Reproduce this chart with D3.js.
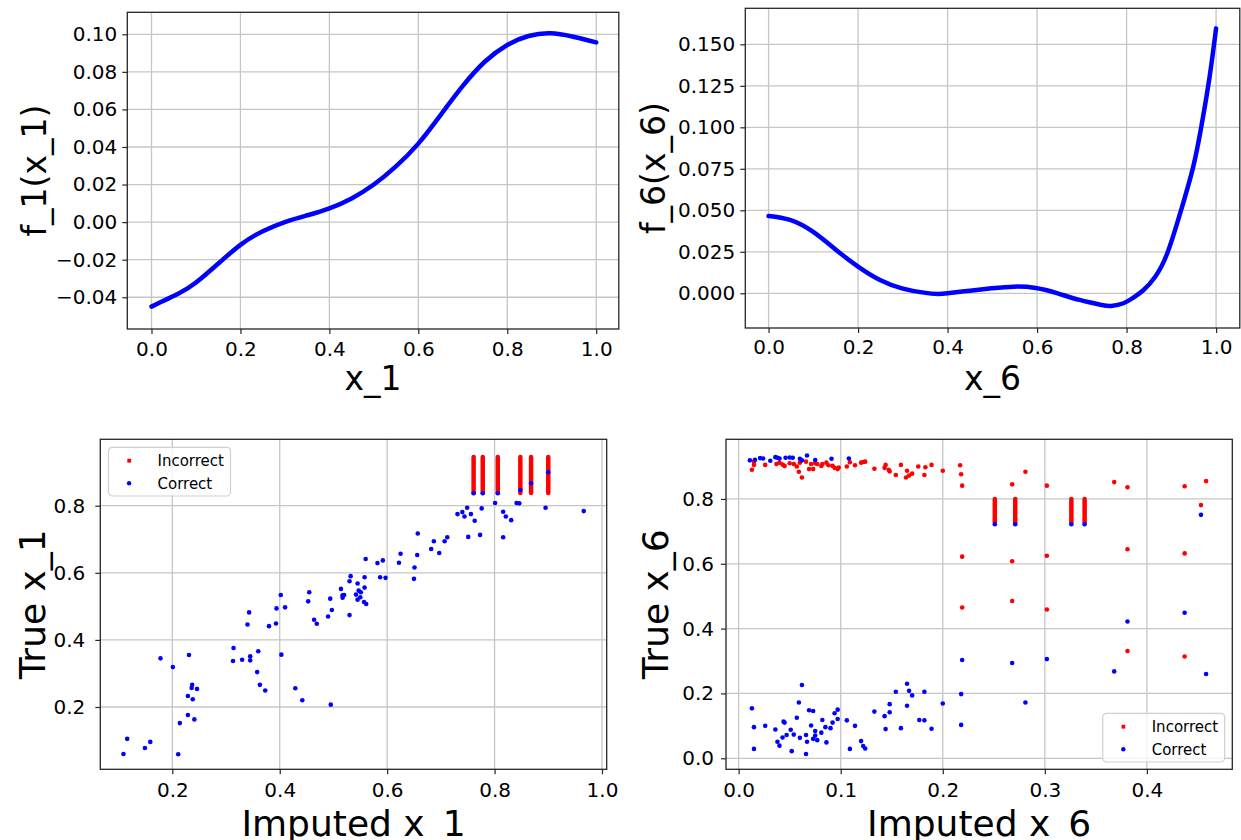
<!DOCTYPE html>
<html>
<head>
<meta charset="utf-8">
<script src="https://cdn.jsdelivr.net/npm/d3@7"></script>
<style>
  body { margin: 0; background: #fff; }
  text { font-family: "DejaVu Sans", sans-serif; }
</style>
</head>
<body>
<script>
var width = 1241,
    height = 840;

// ---- shape function f_1(x_1)
var f1X = [0, 0.062, 0.1, 0.151, 0.2, 0.249, 0.303, 0.353, 0.4, 0.45, 0.5, 0.549, 0.6, 0.65, 0.7, 0.75, 0.8, 0.848, 0.897, 0.946, 1.0];
var f1Y = [-0.045, -0.0379, -0.0322, -0.0219, -0.0121, -0.0050, 0.0003, 0.0038, 0.0073, 0.0126, 0.0200, 0.0295, 0.0418, 0.0570, 0.0725, 0.0855, 0.0943, 0.0991, 0.1005, 0.0988, 0.0957];

// ---- shape function f_6(x_6)
var f6X = [0, 0.048, 0.099, 0.151, 0.2, 0.249, 0.298, 0.347, 0.378, 0.4, 0.45, 0.499, 0.548, 0.597, 0.646, 0.695, 0.744, 0.766, 0.793, 0.815, 0.838, 0.864, 0.891, 0.922, 0.949, 0.967, 0.985, 1.0];
var f6Y = [0.0466, 0.0442, 0.0371, 0.0261, 0.0161, 0.0080, 0.0030, 0.0004, -0.0004, 0.0, 0.0016, 0.0030, 0.0040, 0.0032, 0.0, -0.0040, -0.0070, -0.0076, -0.0060, -0.0026, 0.0020, 0.0100, 0.0241, 0.0502, 0.0763, 0.1004, 0.1295, 0.1596];

// ---- imputation of x_1
var x1CorrectImputed = [0.109, 0.116, 0.149, 0.159, 0.211, 0.178, 0.201, 0.231, 0.214, 0.229, 0.241, 0.229, 0.238, 0.236, 0.237, 0.246,
  0.314, 0.313, 0.330, 0.345, 0.345, 0.360, 0.358, 0.363, 0.373, 0.340, 0.343, 0.380, 0.393, 0.394, 0.402, 0.410, 0.403, 0.429, 0.442, 0.495,
  0.453, 0.455, 0.464, 0.469, 0.490, 0.494, 0.497, 0.514, 0.517, 0.517, 0.520, 0.530, 0.532, 0.530, 0.545, 0.547, 0.551, 0.550, 0.545, 0.542,
  0.558, 0.558, 0.557, 0.561, 0.560, 0.582, 0.592, 0.587, 0.597, 0.622, 0.625, 0.650, 0.651, 0.656, 0.657, 0.682, 0.687, 0.697, 0.707, 0.712,
  0.731, 0.740, 0.744, 0.749, 0.756, 0.763, 0.751, 0.773, 0.776, 0.801, 0.816, 0.821, 0.831, 0.816, 0.841, 0.846, 0.895, 0.966,
  0.761, 0.778, 0.806, 0.848, 0.868, 0.900];
var x1CorrectTrue = [0.060, 0.105, 0.078, 0.096, 0.059, 0.345, 0.319, 0.355, 0.152, 0.176, 0.163, 0.233, 0.223, 0.257, 0.266, 0.254,
  0.376, 0.337, 0.341, 0.351, 0.339, 0.366, 0.304, 0.266, 0.249, 0.446, 0.482, 0.441, 0.449, 0.494, 0.534, 0.497, 0.356, 0.256, 0.220, 0.207,
  0.515, 0.542, 0.460, 0.448, 0.470, 0.523, 0.489, 0.552, 0.526, 0.533, 0.534, 0.575, 0.590, 0.474, 0.568, 0.547, 0.542, 0.527, 0.520, 0.535,
  0.587, 0.556, 0.513, 0.507, 0.641, 0.629, 0.637, 0.587, 0.585, 0.630, 0.657, 0.582, 0.616, 0.653, 0.717, 0.671, 0.694, 0.659, 0.694, 0.706,
  0.775, 0.781, 0.768, 0.794, 0.775, 0.755, 0.707, 0.713, 0.792, 0.808, 0.782, 0.768, 0.757, 0.706, 0.808, 0.807, 0.794, 0.784,
  0.837, 0.837, 0.837, 0.847, 0.867, 0.900];
// dense runs of incorrect points (one imputed value, a range of true values)
var x1IncorrectX = [0.761, 0.778, 0.806, 0.848, 0.868, 0.900];
var x1IncorrectLow = [0.838, 0.838, 0.838, 0.838, 0.838, 0.838];
var x1IncorrectHigh = [0.945, 0.945, 0.945, 0.945, 0.945, 0.945];

// ---- imputation of x_6
var x6CorrectImputed = [0.011, 0.016, 0.021, 0.024, 0.031, 0.036, 0.038, 0.040, 0.046, 0.050, 0.053, 0.060, 0.062, 0.067, 0.075, 0.091, 0.108,
  0.013, 0.015, 0.015, 0.026, 0.036, 0.038, 0.040, 0.043, 0.044, 0.045, 0.047, 0.051, 0.052, 0.054, 0.057, 0.059, 0.062, 0.060, 0.066, 0.067,
  0.066, 0.069, 0.071, 0.073, 0.075, 0.075, 0.077, 0.073, 0.082, 0.081, 0.085, 0.086, 0.090, 0.092, 0.094, 0.097, 0.097, 0.106, 0.109, 0.114,
  0.120, 0.122, 0.124, 0.133, 0.143, 0.144, 0.148, 0.148, 0.154, 0.159, 0.165, 0.165, 0.167, 0.170, 0.177, 0.182, 0.182, 0.189, 0.200,
  0.453, 0.437, 0.381, 0.219, 0.268, 0.302, 0.368, 0.458, 0.218, 0.281, 0.218,
  0.251, 0.271, 0.326, 0.339];
var x6CorrectTrue = [0.919, 0.921, 0.926, 0.925, 0.918, 0.929, 0.927, 0.925, 0.927, 0.928, 0.927, 0.924, 0.919, 0.934, 0.920, 0.924, 0.925,
  0.154, 0.096, 0.029, 0.100, 0.089, 0.051, 0.039, 0.064, 0.113, 0.110, 0.072, 0.088, 0.022, 0.073, 0.125, 0.172, 0.226, 0.063, 0.072, 0.051,
  0.013, 0.148, 0.101, 0.146, 0.084, 0.070, 0.056, 0.060, 0.118, 0.079, 0.096, 0.049, 0.093, 0.110, 0.139, 0.121, 0.150, 0.117, 0.029, 0.100,
  0.053, 0.038, 0.030, 0.144, 0.130, 0.090, 0.167, 0.142, 0.205, 0.093, 0.230, 0.162, 0.208, 0.194, 0.118, 0.205, 0.117, 0.091, 0.169,
  0.751, 0.449, 0.422, 0.303, 0.294, 0.306, 0.268, 0.260, 0.198, 0.172, 0.103,
  0.722, 0.722, 0.722, 0.722];
var x6IncorrectImputed = [0.013, 0.015, 0.015, 0.026, 0.037, 0.040, 0.043, 0.045, 0.050, 0.054, 0.057, 0.059, 0.062, 0.060, 0.066, 0.069,
  0.071, 0.073, 0.075, 0.077, 0.081, 0.082, 0.086, 0.088, 0.092, 0.094, 0.097, 0.098, 0.106, 0.109, 0.114, 0.120, 0.122, 0.124, 0.133, 0.143,
  0.144, 0.147, 0.148, 0.154, 0.159, 0.165, 0.164, 0.167, 0.170, 0.176, 0.182, 0.183, 0.189, 0.200,
  0.217, 0.218, 0.219, 0.268, 0.281, 0.302, 0.368, 0.381, 0.437, 0.458, 0.453,
  0.219, 0.268, 0.302, 0.381, 0.437, 0.219, 0.268, 0.302, 0.381, 0.437];
var x6IncorrectTrue = [0.890, 0.915, 0.905, 0.905, 0.908, 0.912, 0.906, 0.902, 0.910, 0.908, 0.900, 0.884, 0.866, 0.912, 0.915, 0.892,
  0.908, 0.892, 0.910, 0.908, 0.902, 0.908, 0.912, 0.904, 0.902, 0.896, 0.892, 0.897, 0.900, 0.913, 0.904, 0.912, 0.914, 0.915, 0.893, 0.896,
  0.905, 0.890, 0.885, 0.874, 0.905, 0.887, 0.866, 0.872, 0.878, 0.900, 0.874, 0.898, 0.905, 0.887,
  0.904, 0.876, 0.841, 0.845, 0.884, 0.841, 0.852, 0.836, 0.839, 0.855, 0.781,
  0.622, 0.608, 0.625, 0.645, 0.632, 0.465, 0.485, 0.459, 0.331, 0.314];
var x6IncorrectX = [0.251, 0.271, 0.326, 0.339];
var x6IncorrectLow = [0.727, 0.727, 0.727, 0.727];
var x6IncorrectHigh = [0.800, 0.800, 0.800, 0.800];

var legendLabels = ["Incorrect", "Correct"];

var RED = "#ff0000", BLUE = "#0000ff";
var gridColor = "#c6c6c6", frameColor = "#262626";

var svg = d3.select("body").append("svg")
    .attr("width", width)
    .attr("height", height);

function makePanel(p) {
  var x = d3.scaleLinear().domain(p.xDomain).range([p.left, p.right]);
  var y = d3.scaleLinear().domain(p.yDomain).range([p.bottom, p.top]);

  var g = svg.append("g");
  var grid = g.append("g"),
      data = g.append("g"),
      front = g.append("g");

  grid.selectAll(".gx").data(p.xTicks).enter().append("line")
      .attr("x1", function(d){ return x(d); })
      .attr("x2", function(d){ return x(d); })
      .attr("y1", p.top).attr("y2", p.bottom)
      .attr("stroke", gridColor).attr("stroke-width", 1.3);
  grid.selectAll(".gy").data(p.yTicks).enter().append("line")
      .attr("y1", function(d){ return y(d); })
      .attr("y2", function(d){ return y(d); })
      .attr("x1", p.left).attr("x2", p.right)
      .attr("stroke", gridColor).attr("stroke-width", 1.3);

  var ax = front.append("g")
      .attr("transform", "translate(0," + p.bottom + ")")
      .call(d3.axisBottom(x).tickValues(p.xTicks).tickFormat(p.xFormat)
        .tickSize(5).tickSizeOuter(0).tickPadding(p.xPad));
  var ay = front.append("g")
      .attr("transform", "translate(" + p.left + ",0)")
      .call(d3.axisLeft(y).tickValues(p.yTicks).tickFormat(p.yFormat)
        .tickSize(5).tickSizeOuter(0).tickPadding(p.yPad));

  [ax, ay].forEach(function(a){
    a.select(".domain").remove();
    a.selectAll("line").attr("stroke", frameColor).attr("stroke-width", 1.2);
    a.selectAll("text").attr("font-size", p.tickSize + "px").attr("fill", "#000")
        .style("font-family", "'DejaVu Sans', sans-serif");
  });

  front.append("rect")
      .attr("x", p.left).attr("y", p.top)
      .attr("width", p.right - p.left).attr("height", p.bottom - p.top)
      .attr("fill", "none").attr("stroke", frameColor).attr("stroke-width", 1.3);

  front.append("text")
      .attr("x", (p.left + p.right) / 2).attr("y", p.xLabelY)
      .attr("text-anchor", "middle")
      .attr("font-size", p.labelSize + "px")
      .text(p.xLabel);

  front.append("text")
      .attr("transform", "translate(" + p.yLabelX + "," + (p.top + p.bottom) / 2 + ") rotate(-90)")
      .attr("text-anchor", "middle")
      .attr("font-size", p.labelSize + "px")
      .text(p.yLabel);

  return { x: x, y: y, data: data, front: front };
}

var fmt1 = d3.format(".1f"), fmt2 = d3.format(".2f"), fmt3 = d3.format(".3f");

// ---- top left: f_1
var pA = makePanel({
  left: 127.3, right: 618.8, top: 12.3, bottom: 329,
  xDomain: [-0.0544, 1.0508], yDomain: [-0.0569, 0.1117],
  xTicks: [0, 0.2, 0.4, 0.6, 0.8, 1.0], yTicks: [-0.04, -0.02, 0, 0.02, 0.04, 0.06, 0.08, 0.10],
  xFormat: fmt1, yFormat: fmt2, xPad: 8, yPad: 5, tickSize: 20,
  xLabel: "x_1", yLabel: "f_1(x_1)", xLabelY: 390, yLabelX: 46, labelSize: 33
});

var line1 = d3.line()
    .x(function(d){ return pA.x(f1X[d]); })
    .y(function(d){ return pA.y(f1Y[d]); })
    .curve(d3.curveNatural);
pA.data.append("path")
    .attr("d", line1(d3.range(f1X.length)))
    .attr("fill", "none").attr("stroke", BLUE).attr("stroke-width", 4.5)
    .attr("stroke-linecap", "round");

// ---- top right: f_6
var pB = makePanel({
  left: 745.3, right: 1239.8, top: 8.3, bottom: 328,
  xDomain: [-0.052, 1.053], yDomain: [-0.0209, 0.1717],
  xTicks: [0, 0.2, 0.4, 0.6, 0.8, 1.0], yTicks: [0, 0.025, 0.05, 0.075, 0.1, 0.125, 0.15],
  xFormat: fmt1, yFormat: fmt3, xPad: 7, yPad: 5, tickSize: 20,
  xLabel: "x_6", yLabel: "f_6(x_6)", xLabelY: 390, yLabelX: 665, labelSize: 33
});

var line6 = d3.line()
    .x(function(d){ return pB.x(f6X[d]); })
    .y(function(d){ return pB.y(f6Y[d]); })
    .curve(d3.curveNatural);
pB.data.append("path")
    .attr("d", line6(d3.range(f6X.length)))
    .attr("fill", "none").attr("stroke", BLUE).attr("stroke-width", 4.5)
    .attr("stroke-linecap", "round");

// ---- scatter helpers
function drawRuns(p, xs, lows, highs) {
  p.data.selectAll(".run").data(d3.range(xs.length)).enter().append("line")
      .attr("x1", function(i){ return p.x(xs[i]); })
      .attr("x2", function(i){ return p.x(xs[i]); })
      .attr("y1", function(i){ return p.y(lows[i]); })
      .attr("y2", function(i){ return p.y(highs[i]); })
      .attr("stroke", RED).attr("stroke-width", 4.5).attr("stroke-linecap", "round");
}
function drawDots(p, xs, ys, color) {
  p.data.append("g").selectAll("circle").data(d3.range(xs.length)).enter().append("circle")
      .attr("cx", function(i){ return p.x(xs[i]); })
      .attr("cy", function(i){ return p.y(ys[i]); })
      .attr("r", 2.3)
      .attr("fill", color);
}
function drawLegend(p, bx, by) {
  var lg = p.front.append("g").attr("transform", "translate(" + bx + "," + by + ")");
  lg.append("rect")
      .attr("width", 122).attr("height", 48.7).attr("rx", 4)
      .attr("fill", "#fff").attr("fill-opacity", 0.8)
      .attr("stroke", "#d0d0d0").attr("stroke-width", 1.2);
  legendLabels.forEach(function(lab, i){
    var cy = 13.4 + i * 22.6;
    if (i === 0) {
      lg.append("rect").attr("x", 18.8).attr("y", cy - 1.9).attr("width", 3.8).attr("height", 3.8).attr("fill", RED);
    } else {
      lg.append("circle").attr("cx", 20.6).attr("cy", cy).attr("r", 2.2).attr("fill", BLUE);
    }
    lg.append("text")
        .attr("x", 49).attr("y", cy)
        .attr("dy", "0.36em")
        .attr("font-size", "15px")
        .text(lab);
  });
}

// ---- bottom left: imputed x_1
var pC = makePanel({
  left: 100.3, right: 606.7, top: 439.3, bottom: 769.3,
  xDomain: [0.0659, 1.0088], yDomain: [0.0143, 0.998],
  xTicks: [0.2, 0.4, 0.6, 0.8, 1.0], yTicks: [0.2, 0.4, 0.6, 0.8],
  xFormat: fmt1, yFormat: fmt1, xPad: 9, yPad: 10, tickSize: 20,
  xLabel: "Imputed x_1", yLabel: "True x_1", xLabelY: 836, yLabelX: 45, labelSize: 36
});
drawRuns(pC, x1IncorrectX, x1IncorrectLow, x1IncorrectHigh);
drawDots(pC, x1CorrectImputed, x1CorrectTrue, BLUE);
drawLegend(pC, 108.5, 447.3);

// ---- bottom right: imputed x_6
var pD = makePanel({
  left: 726, right: 1232.3, top: 439.3, bottom: 769.3,
  xDomain: [-0.0124, 0.4837], yDomain: [-0.034, 0.984],
  xTicks: [0, 0.1, 0.2, 0.3, 0.4], yTicks: [0, 0.2, 0.4, 0.6, 0.8],
  xFormat: fmt1, yFormat: fmt1, xPad: 9, yPad: 7, tickSize: 20,
  xLabel: "Imputed x_6", yLabel: "True x_6", xLabelY: 836, yLabelX: 668, labelSize: 36
});
drawDots(pD, x6IncorrectImputed, x6IncorrectTrue, RED);
drawRuns(pD, x6IncorrectX, x6IncorrectLow, x6IncorrectHigh);
drawDots(pD, x6CorrectImputed, x6CorrectTrue, BLUE);
drawLegend(pD, 1102.7, 713.3);
</script>
</body>
</html>
